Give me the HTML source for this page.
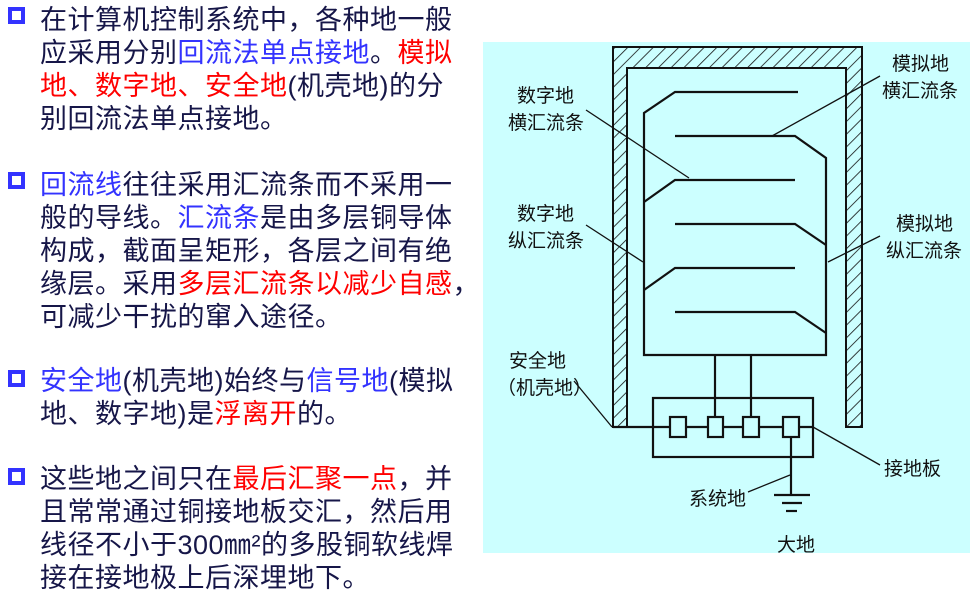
<!DOCTYPE html>
<html><head><meta charset="utf-8"><style>
body{margin:0;width:970px;height:608px;background:#fff;position:relative;overflow:hidden;font-family:"Liberation Sans","Noto Sans CJK SC",sans-serif}
.l{position:absolute;left:40px;font-size:27px;line-height:30px;height:30px;white-space:nowrap;color:#161648;letter-spacing:0.5px}
.b{color:#3333ff}.r{color:#ff0000}
.sq{position:absolute;left:8px;width:9px;height:9px;border:4px solid #3333ff}
svg text{font-family:"Liberation Sans","Noto Sans CJK SC",sans-serif;font-size:19px;fill:#111}
</style></head><body>
<div class="sq" style="top:7px"></div>
<div class="l" style="top:5px">在计算机控制系统中，各种地一般</div>
<div class="l" style="top:38px">应采用分别<span class="b">回流法单点接地</span>。<span class="r">模拟</span></div>
<div class="l" style="top:71px"><span class="r">地、数字地、安全地</span>(机壳地)的分</div>
<div class="l" style="top:104px">别回流法单点接地。</div>
<div class="sq" style="top:172px"></div>
<div class="l" style="top:170px"><span class="b">回流线</span>往往采用汇流条而不采用一</div>
<div class="l" style="top:203px">般的导线。<span class="b">汇流条</span>是由多层铜导体</div>
<div class="l" style="top:236px">构成，截面呈矩形，各层之间有绝</div>
<div class="l" style="top:269px">缘层。采用<span class="r">多层汇流条以减少自感</span>，</div>
<div class="l" style="top:302px">可减少干扰的窜入途径。</div>
<div class="sq" style="top:370px"></div>
<div class="l" style="top:366px"><span class="b">安全地</span>(机壳地)始终与<span class="b">信号地</span>(模拟</div>
<div class="l" style="top:399px">地、数字地)是<span class="r">浮离开</span>的。</div>
<div class="sq" style="top:468px"></div>
<div class="l" style="top:464px">这些地之间只在<span class="r">最后汇聚一点</span>，并</div>
<div class="l" style="top:497px">且常常通过铜接地板交汇，然后用</div>
<div class="l" style="top:530px">线径不小于300㎜²的多股铜软线焊</div>
<div class="l" style="top:563px">接在接地极上后深埋地下。</div>

<svg width="970" height="608" style="position:absolute;left:0;top:0">
<defs><pattern id="h" width="9" height="9" patternUnits="userSpaceOnUse" patternTransform="rotate(45)">
<line x1="0" y1="0" x2="0" y2="9" stroke="#111" stroke-width="1.6"/></pattern></defs>
<rect x="483" y="42" width="487" height="511" fill="#ccffff"/>
<path d="M613,427 L613,47 L862,47 L862,427 L846,427 L846,68 L627,68 L627,427 Z" fill="url(#h)" stroke="#111" stroke-width="2"/>
<g stroke="#111" stroke-width="2.2" fill="none">
<polyline points="798,92 675,92 644,113 644,355 826,355 826,158 795,136 675,136"/>
<polyline points="644,202 675,180 795,180"/>
<polyline points="644,290 675,268 795,268"/>
<polyline points="675,224 795,224 826,245"/>
<polyline points="675,312 795,312 826,333"/>
<polyline points="715,355 715,418"/>
<polyline points="751,355 751,418"/>
<rect x="653" y="398" width="160" height="59"/>
<line x1="613" y1="427" x2="813" y2="427"/>
<rect x="670" y="417" width="16" height="20" fill="#ccffff"/>
<rect x="708" y="417" width="15" height="20" fill="#ccffff"/>
<rect x="743" y="417" width="16" height="20" fill="#ccffff"/>
<rect x="783" y="417" width="16" height="20" fill="#ccffff"/>
<line x1="791" y1="437" x2="791" y2="495"/>
<line x1="774" y1="495" x2="810" y2="495"/>
<line x1="782" y1="503" x2="802" y2="503"/>
<line x1="786" y1="511" x2="797" y2="511"/>
</g>
<g stroke="#111" stroke-width="1.3">
<line x1="586" y1="110" x2="689" y2="178"/>
<line x1="586" y1="225" x2="643" y2="262"/>
<line x1="880" y1="76" x2="772" y2="136"/>
<line x1="880" y1="236" x2="828" y2="262"/>
<line x1="574" y1="381" x2="612" y2="427"/>
<line x1="813" y1="427" x2="880" y2="465"/>
<line x1="748" y1="492" x2="790" y2="475"/>
</g>
<text x="517" y="102">数字地</text>
<text x="508" y="129">横汇流条</text>
<text x="517" y="220">数字地</text>
<text x="508" y="247">纵汇流条</text>
<text x="892" y="70">模拟地</text>
<text x="882" y="97">横汇流条</text>
<text x="896" y="230">模拟地</text>
<text x="886" y="257">纵汇流条</text>
<text x="509" y="367">安全地</text>
<text x="497" y="394">（机壳地）</text>
<text x="884" y="475">接地板</text>
<text x="689" y="505">系统地</text>
<text x="777" y="551">大地</text>
</svg>
</body></html>
